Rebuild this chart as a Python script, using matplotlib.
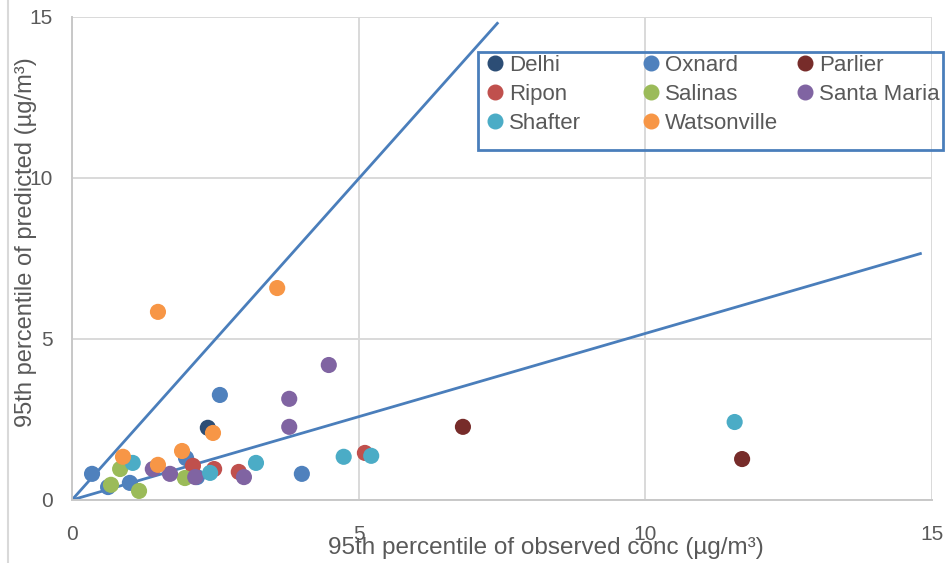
import matplotlib.pyplot as plt
from matplotlib.lines import Line2D
from matplotlib.patches import Rectangle

plt.rcParams['font.family'] = ['Liberation Sans', 'DejaVu Sans']

# 95th percentile observed vs predicted, per site
sites = ["Delhi", "Oxnard", "Parlier", "Ripon", "Salinas", "Santa Maria", "Shafter", "Watsonville"]
colors = ["#2C4D75", "#4F81BD", "#772C2A", "#C0504D", "#9BBB59", "#8064A2", "#4BACC6", "#F79646"]

obs = {
    "Delhi": [2.37],
    "Oxnard": [0.35, 0.63, 1.01, 1.99, 2.18, 2.58, 4.01],
    "Parlier": [6.82, 11.69],
    "Ripon": [2.11, 2.48, 2.91, 5.11],
    "Salinas": [0.68, 0.84, 1.17, 1.97],
    "Santa Maria": [1.41, 1.71, 2.15, 3.00, 3.79, 3.79, 4.48],
    "Shafter": [1.06, 2.41, 3.21, 4.74, 5.22, 11.56],
    "Watsonville": [0.89, 1.50, 1.92, 2.46, 1.50, 3.58],
}
pred = {
    "Delhi": [2.24],
    "Oxnard": [0.81, 0.40, 0.53, 1.30, 0.71, 3.26, 0.81],
    "Parlier": [2.27, 1.27],
    "Ripon": [1.06, 0.96, 0.87, 1.46],
    "Salinas": [0.47, 0.96, 0.28, 0.68],
    "Santa Maria": [0.96, 0.81, 0.71, 0.71, 2.27, 3.14, 4.19],
    "Shafter": [1.15, 0.84, 1.15, 1.34, 1.37, 2.42],
    "Watsonville": [1.34, 1.09, 1.52, 2.08, 5.84, 6.58],
}

# reference lines (factor of 2 above and below)
upper_x = [0, 7.42]
upper_y = [0, 14.8]
lower_x = [0, 14.8]
lower_y = [0, 7.65]

fig = plt.figure(figsize=(9.47, 5.63), dpi=100)
ax = fig.add_axes([0.076, 0.112, 0.908, 0.858])

txt = "#595959"
ax.set_xlim(0, 15)
ax.set_ylim(0, 15)
ax.set_xticks([0, 5, 10, 15])
ax.set_yticks([0, 5, 10, 15])
ax.grid(True, color="#D9D9D9", linewidth=1.4)
ax.set_axisbelow(True)
for s in ["top", "right"]:
    ax.spines[s].set_visible(False)
for s in ["left", "bottom"]:
    ax.spines[s].set_color("#C8C8C8")
    ax.spines[s].set_linewidth(1.4)
ax.tick_params(length=0, labelsize=15, colors=txt)
ax.tick_params(axis="x", pad=18)
ax.tick_params(axis="y", pad=14)

ax.plot(upper_x, upper_y, color="#4A7EBB", linewidth=2, zorder=2)
ax.plot(lower_x, lower_y, color="#4A7EBB", linewidth=2, zorder=2)

for name, c in zip(sites, colors):
    ax.scatter(obs[name], pred[name], s=135, color=c, edgecolors="none", zorder=3)

ax.set_xlabel("95th percentile of observed conc (µg/m³)", fontsize=17.5, color=txt)
ax.set_ylabel("95th percentile of predicted (µg/m³)", fontsize=17, color=txt)
ax.xaxis.set_label_coords(0.551, -0.076)
ax.yaxis.set_label_coords(-0.041, 0.534)

# legend: three columns, one frame around them
fig.add_artist(Rectangle((478 / 947, 1 - 150 / 563), 465 / 947, 98 / 563,
                         transform=fig.transFigure, fill=False,
                         edgecolor="#4A7EBB", linewidth=2))
columns = [[0, 3, 6], [1, 4, 7], [2, 5]]
col_x = [487, 643, 797]
for idx, x0 in zip(columns, col_x):
    hs = [Line2D([], [], marker="o", linestyle="none", markersize=10.5, color=colors[i]) for i in idx]
    lg = fig.legend(hs, [sites[i] for i in idx], loc="upper left",
                    bbox_to_anchor=(x0 / 947, 1 - 55 / 563), fontsize=16,
                    frameon=False, handlelength=0.7, handletextpad=0.3,
                    labelspacing=0.35, borderpad=0, borderaxespad=0)
    for t in lg.get_texts():
        t.set_color(txt)

fig.add_artist(Line2D([0.008, 0.008], [0, 1], color="#D9D9D9", linewidth=1.5))

fig.savefig("out.png", dpi=100)
